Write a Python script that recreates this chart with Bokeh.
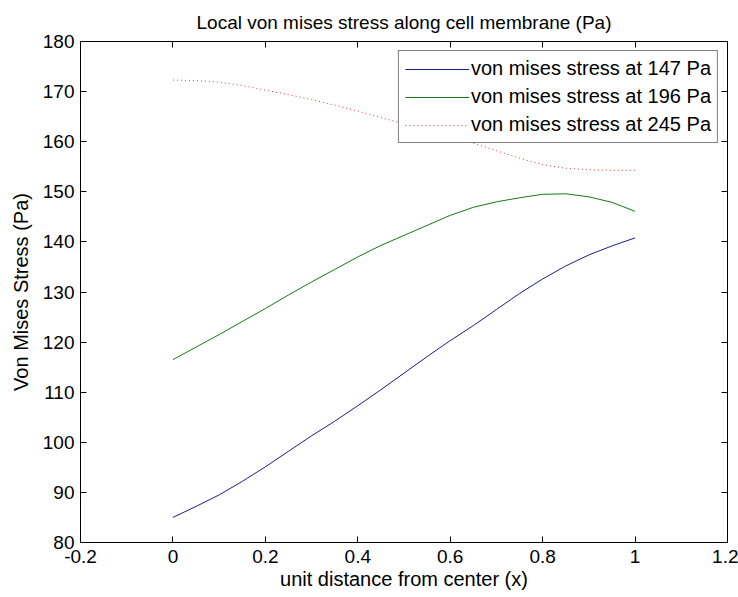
from bokeh.plotting import figure
from bokeh.models import (LinearAxis, Range1d, Legend, LegendItem, FixedTicker,
                          CustomLabelingPolicy)
from bokeh.embed import file_html
from bokeh.resources import INLINE

# position along the membrane (unit distance from the cell center)
x = [0.0, 0.05, 0.1, 0.15, 0.2, 0.25, 0.3, 0.35, 0.4, 0.45, 0.5,
     0.55, 0.6, 0.65, 0.7, 0.75, 0.8, 0.85, 0.9, 0.95, 1.0]

# local von Mises stress (Pa) for three applied loads
stress_147 = [85.0, 87.2, 89.5, 92.2, 95.1, 98.2, 101.3, 104.2, 107.3, 110.5, 113.8,
              117.1, 120.3, 123.3, 126.5, 129.7, 132.6, 135.2, 137.4, 139.2, 140.8]
stress_196 = [116.5, 119.0, 121.5, 124.1, 126.7, 129.4, 132.0, 134.5, 137.0, 139.3, 141.3,
              143.3, 145.3, 146.9, 148.0, 148.8, 149.5, 149.6, 149.0, 147.9, 146.1]
stress_245 = [172.3, 172.2, 171.9, 171.2, 170.3, 169.4, 168.4, 167.3, 166.1, 164.8, 163.6,
              162.3, 161.0, 159.7, 158.2, 156.7, 155.4, 154.7, 154.4, 154.3, 154.3]

series_labels = ["von mises stress at 147 Pa",
                 "von mises stress at 196 Pa",
                 "von mises stress at 245 Pa"]

x_ticks = [-0.2, 0.0, 0.2, 0.4, 0.6, 0.8, 1.0, 1.2]
x_tick_labels = ["-0.2", "0", "0.2", "0.4", "0.6", "0.8", "1", "1.2"]
y_ticks = [80, 90, 100, 110, 120, 130, 140, 150, 160, 170, 180]

FONT = "Liberation Sans"

p = figure(width=738, height=597,
           x_range=Range1d(-0.2, 1.2), y_range=Range1d(80, 180),
           output_backend="svg", toolbar_location=None,
           title="Local von mises stress along cell membrane (Pa)",
           x_axis_label="unit distance from center (x)",
           y_axis_label="Von Mises Stress (Pa)",
           min_border_left=80, min_border_right=11,
           min_border_top=41, min_border_bottom=55)

p.background_fill_color = "white"
p.border_fill_color = "white"
p.outline_line_color = "black"
p.outline_line_width = 1
p.xgrid.visible = False
p.ygrid.visible = False

p.title.text_font = FONT
p.title.text_font_size = "19px"
p.title.text_font_style = "normal"
p.title.align = "center"
p.title.text_color = "black"
p.title.standoff = 17

# top/right axes only carry inward tick marks, no labels
no_labels = CustomLabelingPolicy(code="""
try {
  const n = indices.size
  for (let i = 0; i < n; i++) { indices.unset(i) }
} catch (e) {}
return indices
""")


def style_axis(ax, show_labels):
    ax.axis_line_color = "black"
    ax.major_tick_line_color = "black"
    ax.major_tick_in = 6
    ax.major_tick_out = 0
    ax.minor_tick_line_color = None
    ax.major_label_text_font = FONT
    ax.major_label_text_font_size = "19px"
    ax.major_label_text_color = "black"
    ax.axis_label_text_font = FONT
    ax.axis_label_text_font_style = "normal"
    ax.axis_label_text_color = "black"
    ax.axis_label_text_font_size = "20px"
    if not show_labels:
        ax.major_label_text_font_size = "0px"
        ax.major_label_policy = no_labels
        ax.major_label_standoff = 0


xa = p.xaxis[0]
xa.ticker = FixedTicker(ticks=x_ticks)
xa.major_label_overrides = {t: s for t, s in zip(x_ticks, x_tick_labels)}
xa.major_label_standoff = 7
xa.axis_label_standoff = 2
style_axis(xa, True)

ya = p.yaxis[0]
ya.ticker = FixedTicker(ticks=y_ticks)
ya.major_label_standoff = 6
ya.axis_label_standoff = 8
style_axis(ya, True)

top_axis = LinearAxis(ticker=FixedTicker(ticks=x_ticks))
style_axis(top_axis, False)
p.add_layout(top_axis, "above")

right_axis = LinearAxis(ticker=FixedTicker(ticks=y_ticks))
style_axis(right_axis, False)
p.add_layout(right_axis, "right")

r1 = p.line(x, stress_147, line_color="#1c1c90", line_width=1)
r2 = p.line(x, stress_196, line_color="#157a15", line_width=1)
r3 = p.line(x, stress_245, line_color="#d83a3a", line_width=1, line_dash="1 3")

legend = Legend(items=[LegendItem(label=series_labels[0], renderers=[r1]),
                       LegendItem(label=series_labels[1], renderers=[r2]),
                       LegendItem(label=series_labels[2], renderers=[r3])],
                location="top_right")
legend.border_line_color = "black"
legend.border_line_width = 1
legend.background_fill_color = "white"
legend.background_fill_alpha = 1.0
legend.label_text_font = FONT
legend.label_text_font_size = "20px"
legend.label_text_color = "black"
legend.label_height = 20
legend.glyph_height = 20
legend.glyph_width = 64
legend.label_standoff = 2
legend.spacing = 5
legend.padding = 6
legend.margin = 9
p.add_layout(legend)

open("out.html", "w").write(file_html(p, INLINE))
